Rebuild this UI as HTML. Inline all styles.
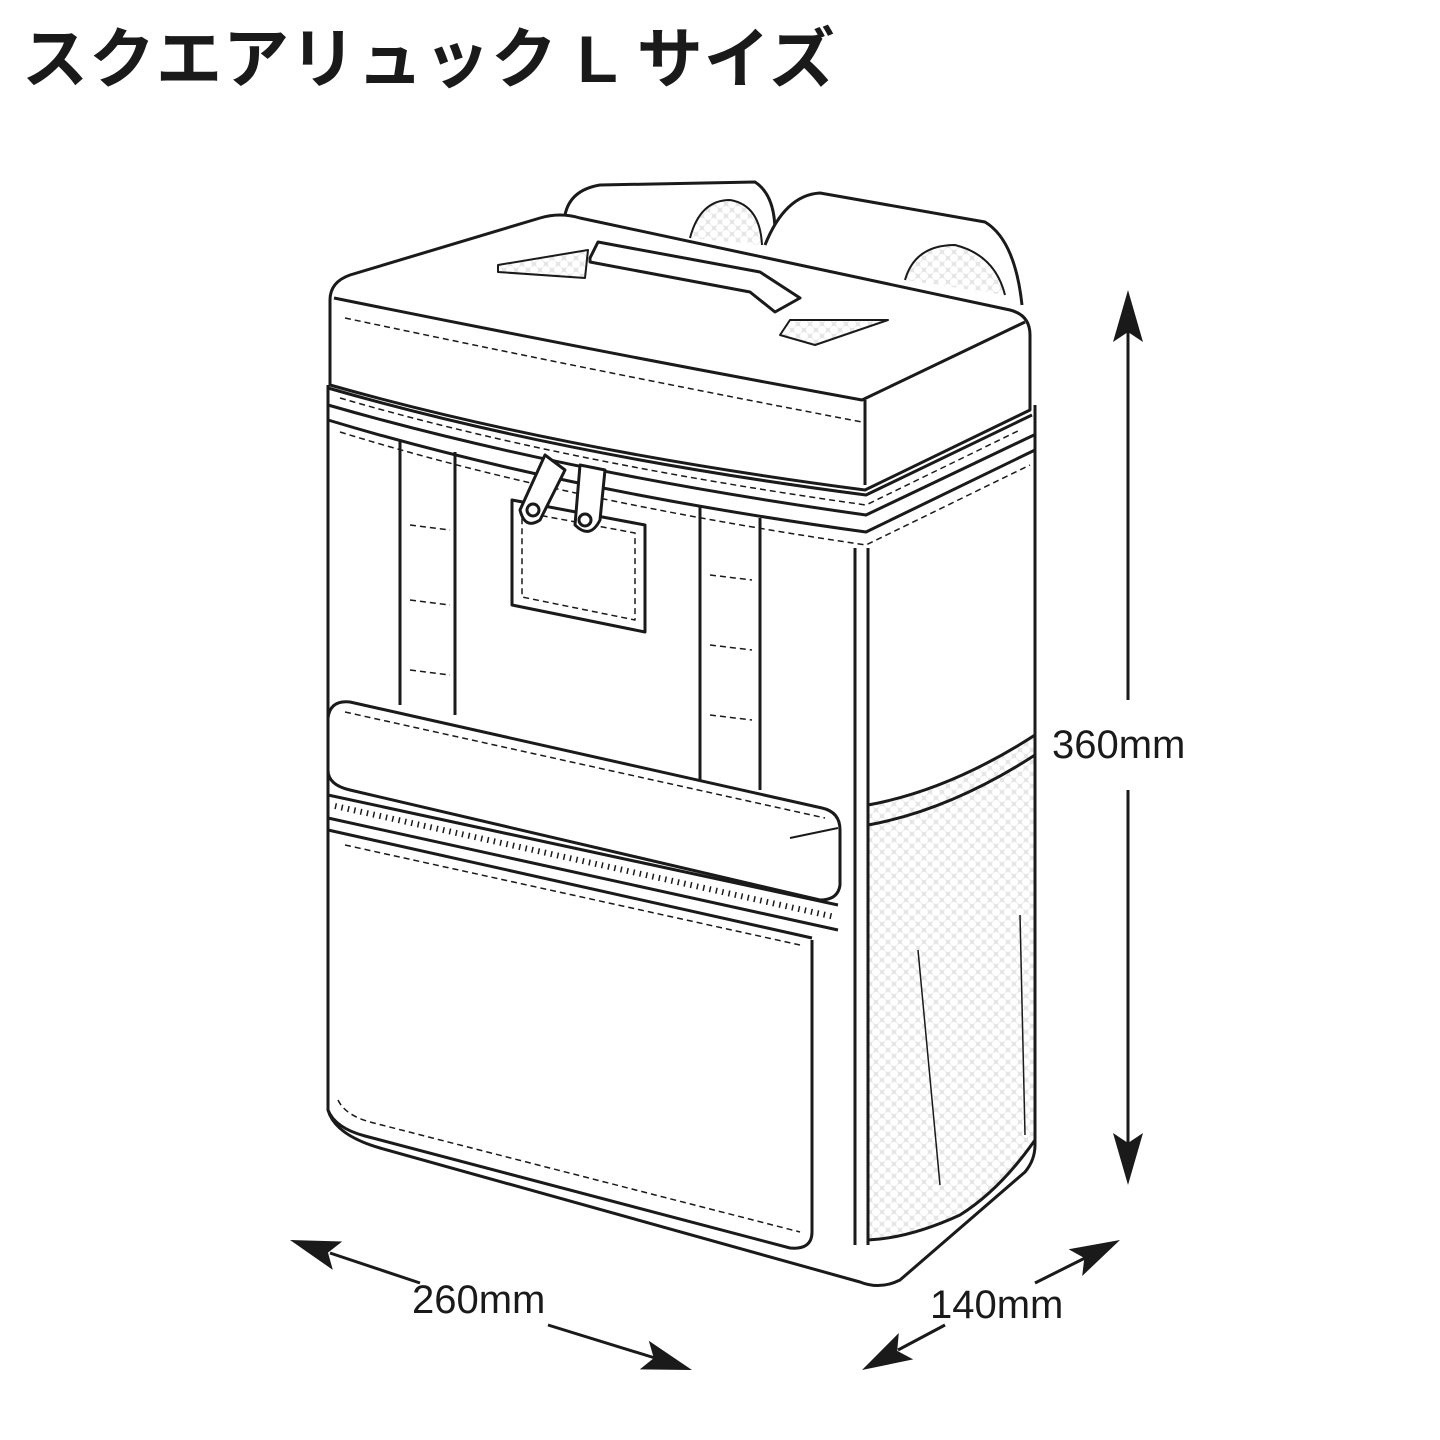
<!DOCTYPE html>
<html><head><meta charset="utf-8"><style>
html,body{margin:0;padding:0;background:#fff;width:1440px;height:1440px;overflow:hidden}
.t{position:absolute;left:22px;top:6px;font:bold 66px "Liberation Sans","Noto Sans CJK JP",sans-serif;color:#1a1a1a;letter-spacing:1px}
svg{position:absolute;left:0;top:0}
</style></head><body>
<div class="t">スクエアリュック L サイズ</div>
<svg width="1440" height="1440" viewBox="0 0 1440 1440">
<defs>
<pattern id="m" width="12" height="12" patternUnits="userSpaceOnUse"><rect width="12" height="12" fill="#e6e6e6"/><circle cx="6" cy="6" r="4" fill="#fff"/><circle cx="0" cy="0" r="4" fill="#fff"/><circle cx="12" cy="0" r="4" fill="#fff"/><circle cx="0" cy="12" r="4" fill="#fff"/><circle cx="12" cy="12" r="4" fill="#fff"/></pattern>
</defs>
<g fill="none" stroke="#1a1a1a" stroke-width="3" stroke-linejoin="round">
<path d="M565,215 Q570,190 600,185 L755,182 Q775,195 775,232" fill="#fff"/>
<path d="M690,238 Q700,200 730,200 Q760,205 762,245" fill="url(#m)" stroke-width="2"/>
<path d="M765,245 Q785,195 820,193 L985,222 Q1015,240 1022,305" fill="#fff"/>
<path d="M905,280 Q915,245 955,245 Q995,255 1005,295" fill="url(#m)" stroke-width="2"/>
<path d="M328,385 L328,1110 Q335,1135 380,1148 L860,1282 Q880,1290 900,1280 L1025,1172 Q1035,1160 1035,1145 L1035,405" fill="#fff"/>
<path d="M330,300 L330,385 Q560,450 865,490 L1030,410 L1030,335 Q1030,315 1010,310 L580,218 Q560,212 540,218 L350,275 Q330,282 330,300 Z" fill="#fff"/>
<path d="M334,298 Q600,352 862,400 L1025,322"/>
<path d="M865,400 L865,485"/>
<path d="M328,388 Q560,455 866,495 L1032,415"/>
<path d="M328,405 Q560,472 866,515 L1034,435"/>
<path d="M328,420 Q560,490 866,532 L1035,450"/>
<path d="M340,398 Q560,462 866,505 L1020,430" stroke-width="1.5" stroke-dasharray="6 4"/>
<path d="M340,432 Q560,500 866,545 L1030,465" stroke-width="1.5" stroke-dasharray="6 4"/>
<path d="M345,318 Q600,372 862,422" stroke-width="1.5" stroke-dasharray="6 4"/>
<path d="M590,258 L598,242 L760,272 L800,298 L775,312 L750,292 L590,262 Z" fill="#fff"/>
<path d="M498,265 L588,250 L585,278 L498,272 Z" fill="url(#m)" stroke-width="2"/>
<path d="M790,320 L888,320 L815,345 L780,335 Z" fill="url(#m)" stroke-width="2"/>
<path d="M400,440 L400,705 M455,452 L455,715"/>
<path d="M700,505 L700,780 M760,518 L760,790"/>
<path d="M410,525 L450,530 M410,600 L450,605 M410,670 L450,675 M710,575 L752,580 M710,645 L752,650 M710,715 L752,720" stroke-width="1.5" stroke-dasharray="6 4"/>
<path d="M512,500 L645,525 L645,632 L512,605 Z" fill="#fff"/>
<path d="M522,512 L635,533 L635,620 L522,597 Z" stroke-width="1.5" stroke-dasharray="6 4"/>
<path d="M545,455 L520,510 Q525,530 540,520 L565,470 Z" fill="#fff"/>
<path d="M580,465 L575,525 Q590,540 600,520 L605,470 Z" fill="#fff"/>
<circle cx="533" cy="510" r="6"/><circle cx="585" cy="520" r="6"/>
<path d="M855,548 L855,1245 M868,548 L868,1245"/>
<path d="M868,805 Q950,790 1035,735 L1035,1140 Q1000,1190 960,1215 Q910,1238 868,1240 Z" fill="url(#m)"/>
<path d="M868,825 Q950,810 1035,755" />
<path d="M918,950 L940,1185 M1020,915 L1025,1135" stroke-width="1.5"/>
<path d="M328,718 Q330,700 350,702 L822,808 Q840,812 840,830 L840,885 Q838,900 820,900 L350,790 Q328,785 328,770 Z" fill="#fff"/>
<path d="M790,838 L838,828" stroke-width="2"/>
<path d="M345,712 L825,818" stroke-width="1.5" stroke-dasharray="6 4"/>
<path d="M328,795 L838,905 M328,818 L838,930 M328,830 L812,938"/>
<path d="M335,806 L835,917" stroke-width="6" stroke-dasharray="1.5 5" />
<path d="M328,830 L328,1110 Q335,1128 365,1136 L790,1248 Q812,1250 812,1232 L812,940"/>
<path d="M338,1100 Q345,1115 370,1122 L800,1232" stroke-width="1.5" stroke-dasharray="6 4"/>
<path d="M345,845 L800,945" stroke-width="1.5" stroke-dasharray="6 4"/>
<path d="M1128,700 L1128,330 M1128,790 L1128,1145"/>
<path d="M420,1283 L330,1253 M548,1325 L655,1358"/>
<path d="M1035,1283 L1085,1258 M945,1325 L898,1350"/>
</g>
<g fill="#1a1a1a">
<path d="M1128,290 L1143,342 L1128,332 L1113,342 Z"/>
<path d="M1128,1185 L1143,1133 L1128,1143 L1113,1133 Z"/>
<path d="M290,1240 L342.2,1241.5 L328,1252.6 L332.8,1269.9 Z"/>
<path d="M692,1370 L639.8,1369.4 L653.8,1358.1 L648.8,1340.8 Z"/>
<path d="M1120,1240 L1082.2,1276 L1084.3,1258 L1068.6,1249.2 Z"/>
<path d="M862,1370 L913.2,1359.4 L897.2,1350.9 L898.8,1333 Z"/>
</g>
<g font-family="Liberation Sans, sans-serif" font-size="40" fill="#1a1a1a">
<text x="1052" y="758">360mm</text>
<text x="412" y="1313">260mm</text>
<text x="930" y="1318">140mm</text>
</g>
</svg>
</body></html>
